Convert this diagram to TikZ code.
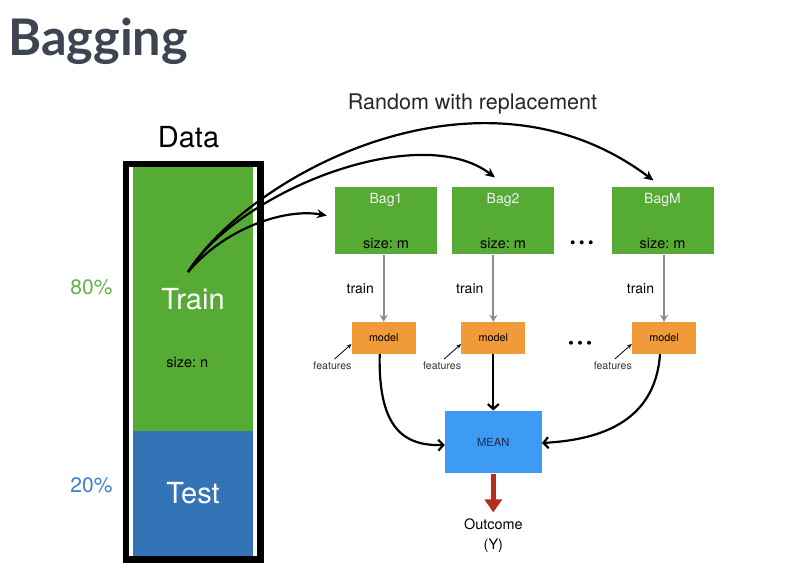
\documentclass[tikz,border=0pt]{standalone}
\usepackage{fontspec}
\setmainfont{TeX Gyre Heros}
\newfontfamily\titlefont{Lato}
\usetikzlibrary{arrows.meta,positioning}

\definecolor{traingreen}{HTML}{56AB35}
\definecolor{pctgreen}{HTML}{5DB445}
\definecolor{testblue}{HTML}{3274B6}
\definecolor{pctblue}{HTML}{3B80C9}
\definecolor{meanblue}{HTML}{3D9BF5}
\definecolor{modelorange}{HTML}{F09A3A}
\definecolor{outred}{HTML}{B32E1C}
\definecolor{titlegray}{HTML}{3D4452}
\definecolor{meantext}{HTML}{1B2A4A}

\newcommand{\fsz}[1]{\fontsize{#1}{#1}\selectfont}
\frenchspacing

\begin{document}
\begin{tikzpicture}[x=1pt,y=-1pt,
  every node/.style={inner sep=0pt},
  part/.style={minimum width=120pt, text=white, font=\fsz{29}},
  bagbox/.style={fill=traingreen, minimum width=102pt, minimum height=67.6pt},
  bagname/.style={text=white!94!black, font=\fsz{14}},
  sizelbl/.style={font=\fsz{14.5}},
  modelbox/.style={fill=modelorange, minimum width=64pt, minimum height=32pt, font=\fsz{10.8}},
  featlbl/.style={font=\fsz{10.6}, text=black!80},
  pick/.style={line width=2.2pt, -{Stealth[length=10pt,width=9pt]}},
  trainarrow/.style={draw=black!45, line width=1.8pt, -{Stealth[length=7pt,width=8pt]}},
  vote/.style={line width=2.2pt, -{Straight Barb[length=5pt,width=11pt]}},
  featarrow/.style={line width=0.8pt, -{Stealth[length=5pt,width=4pt]}}]
  \useasboundingbox (0,0) rectangle (786,574);

  % Title
  \node[anchor=base west, font=\titlefont\bfseries\fsz{50.5}, text=titlegray] (title) at (8,55) {Bagging};

  % Data column
  \node[part, fill=traingreen, minimum height=264.5pt] (train) at (193,298.75) {Train};
  \node[part, fill=testblue, minimum height=125pt] (test) at (193,493.5) {Test};
  \node[draw, line width=6.5pt, minimum width=134.7pt, minimum height=395.4pt] (data) at (193.35,361.7) {};
  \node[font=\fsz{29}] (datalbl) at (188.5,137) {Data};
  \node[sizelbl] (trainsize) at (187.3,362.7) {size: n};
  \node[font=\fsz{21}, text=pctgreen] (pcttrain) at (91.5,287) {80\%};
  \node[font=\fsz{21}, text=pctblue] (pcttest) at (91.5,485) {20\%};

  % Bags and models
  \foreach \i/\bx/\mx/\name in {1/386/383.7/Bag1, 2/503/493.3/Bag2, 3/662.5/664/BagM} {
    \node[bagbox] (bag\i) at (\bx,220.5) {};
    \node[bagname] (bagname\i) at ([yshift=-13.5pt]bag\i.north) {\name};
    \node[sizelbl] (bagsize\i) at ([yshift=11pt]bag\i.south) {size: m};
    \node[modelbox] (model\i) at (\mx,338) {model};
    \node[featlbl] (feat\i) at ([xshift=-19pt,yshift=-11pt]model\i.south west) {features};
    \draw[trainarrow] (model\i.north |- bag\i.south) -- (model\i.north)
      node[midway, left=9pt, font=\fsz{14}] (trainlbl\i) {train};
    \draw[featarrow] ([xshift=2pt,yshift=2pt]feat\i.north) -- ([yshift=-6pt]model\i.west);
  }

  % Dots
  \foreach \dx in {-9,0,9} {
    \fill (581.7+\dx,242.3) circle (2pt);
    \fill (580+\dx,342.7) circle (2pt);
  }

  % Sampling
  \node[font=\fsz{21.5}, text=black!85] (randlbl) at (472.5,104) {Random with replacement};
  \coordinate (src) at (188,272);
  \draw[pick] (src) .. controls (225,228) and (285,208) .. ([xshift=-8pt,yshift=5pt]bag1.west);
  \draw[pick] (src) .. controls (240,190) and (420,120) .. ([xshift=-8pt,yshift=9pt]bag2.north);
  \draw[pick] (src) .. controls (250,175) and (480,50) .. ([xshift=-9pt,yshift=6pt]bag3.north);

  % Aggregation
  \node[fill=meanblue, minimum width=96.7pt, minimum height=62.6pt, font=\fsz{11.2}, text=meantext] (mean) at (493.3,442) {MEAN};
  \draw[vote] ([xshift=-4pt]model1.south) .. controls (378,430) and (405,446) .. ([yshift=-3pt]mean.west);
  \draw[vote] (model2.south) -- (mean.north);
  \draw[vote] ([xshift=-4pt]model3.south) .. controls (655,425) and (595,440) .. ([yshift=-1pt]mean.east);

  % Outcome
  \node[align=center, font=\fontsize{14.4}{20}\selectfont] (outcome) at (493.3,535.5) {Outcome\\(Y)};
  \draw[outred, line width=5pt, -{Triangle[length=13pt,width=17pt]}] (mean.south) -- ([yshift=6pt]outcome.north);
\end{tikzpicture}
\end{document}
